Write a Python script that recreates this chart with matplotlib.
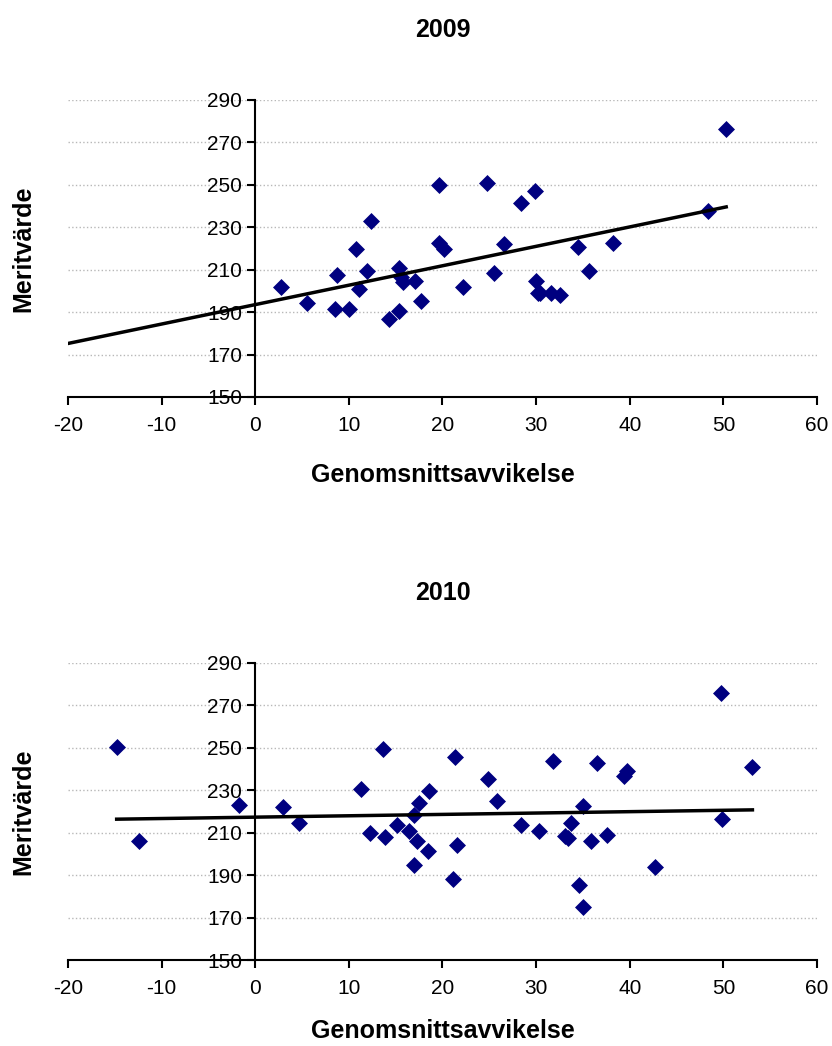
import matplotlib.pyplot as plt
import numpy as np

plt.rcParams['font.family'] = ['Liberation Sans', 'DejaVu Sans']
plt.rcParams['axes.unicode_minus'] = False

# 2009 data
x_2009 = [2.7, 5.5, 8.5, 8.7, 10.0, 10.8, 11.1, 11.9, 12.4, 14.3,
          15.4, 15.4, 15.6, 15.8, 17.1, 17.7, 19.6, 19.6, 20.2, 22.2,
          24.7, 25.5, 26.6, 28.4, 29.9, 30.0, 30.2, 30.4, 31.6, 32.5,
          34.5, 35.6, 38.2, 48.4, 50.3]
y_2009 = [202, 194.5, 191.5, 207.5, 191.5, 219.7, 200.8, 209.3, 233.1, 186.7,
          210.6, 190.5, 206.7, 204.3, 204.6, 195.3, 249.9, 222.4, 219.7, 201.9,
          251, 208.6, 222.1, 241.6, 247.2, 204.8, 199.1, 199.1, 199.1, 198,
          220.8, 209.3, 222.7, 237.8, 276.3]

# 2010 data
x_2010 = [-14.8, -12.4, -1.7, 3.0, 4.7, 11.3, 12.3, 13.6, 13.9, 15.1,
          16.4, 17.0, 17.0, 17.3, 17.5, 18.4, 18.6, 21.1, 21.3, 21.6,
          24.9, 25.8, 28.4, 30.3, 31.8, 33.1, 33.4, 33.7, 34.6, 35.0,
          35.0, 35.9, 36.5, 37.6, 39.4, 39.7, 42.7, 49.7, 49.9, 53.1]
y_2010 = [250.3, 206.1, 223, 222.1, 214.5, 230.7, 209.8, 249.4, 207.9, 213.7,
          210.8, 218.3, 194.8, 206.1, 223.9, 201.3, 229.6, 188.2, 245.6, 204.2,
          235.2, 224.9, 213.6, 210.8, 243.9, 208.3, 207.3, 214.5, 185.3, 222.5,
          175, 206.2, 242.9, 209, 236.8, 239.2, 193.8, 275.7, 216.4, 240.9]

years = ['2009', '2010']
xlim = (-20, 60)
ylim = (150, 290)
xticks = np.arange(-20, 61, 10)
yticks = np.arange(150, 291, 20)

fig = plt.figure(figsize=(8.32, 10.46), dpi=100)
ax_top = fig.add_axes([0.0817, 0.6205, 0.9003, 0.2839])
ax_bot = fig.add_axes([0.0817, 0.0822, 0.9003, 0.2843])

# trendline start: top chart extends back to the axis edge
trend_start = [-20, None]
xlabel_y = [-0.222, -0.2]

for ax, year, xs, ys, t0, ly in zip([ax_top, ax_bot], years, [x_2009, x_2010],
                                    [y_2009, y_2010], trend_start, xlabel_y):
    xs = np.array(xs)
    ys = np.array(ys)
    ax.scatter(xs, ys, marker='D', s=75, color='#000080', zorder=3, linewidths=0)

    k, m = np.polyfit(xs, ys, 1)
    lx = np.array([xs.min() if t0 is None else t0, xs.max()])
    ax.plot(lx, k * lx + m, color='black', lw=2.5, zorder=4)

    ax.set_xlim(*xlim)
    ax.set_ylim(*ylim)
    ax.set_xticks(xticks)
    ax.set_yticks(yticks)
    ax.tick_params(labelsize=15, direction='out', length=6, width=1.5)
    ax.tick_params(axis='x', pad=8)

    for s in ['top', 'right']:
        ax.spines[s].set_visible(False)
    ax.spines['left'].set_position(('data', 0))
    ax.spines['left'].set_linewidth(1.5)
    ax.spines['bottom'].set_linewidth(1.5)

    ax.yaxis.grid(True, color='#b8b8b8', linestyle=':', linewidth=1)
    ax.set_axisbelow(True)

    ax.set_title(year, fontsize=18, fontweight='bold', pad=45)
    ax.set_xlabel('Genomsnittsavvikelse', fontsize=18, fontweight='bold')
    ax.xaxis.set_label_coords(0.5, ly)
    ax.set_ylabel('Meritvärde', fontsize=18, fontweight='bold')
    ax.yaxis.set_label_coords(-0.044, 0.5)

fig.savefig('out.png', dpi=100)
